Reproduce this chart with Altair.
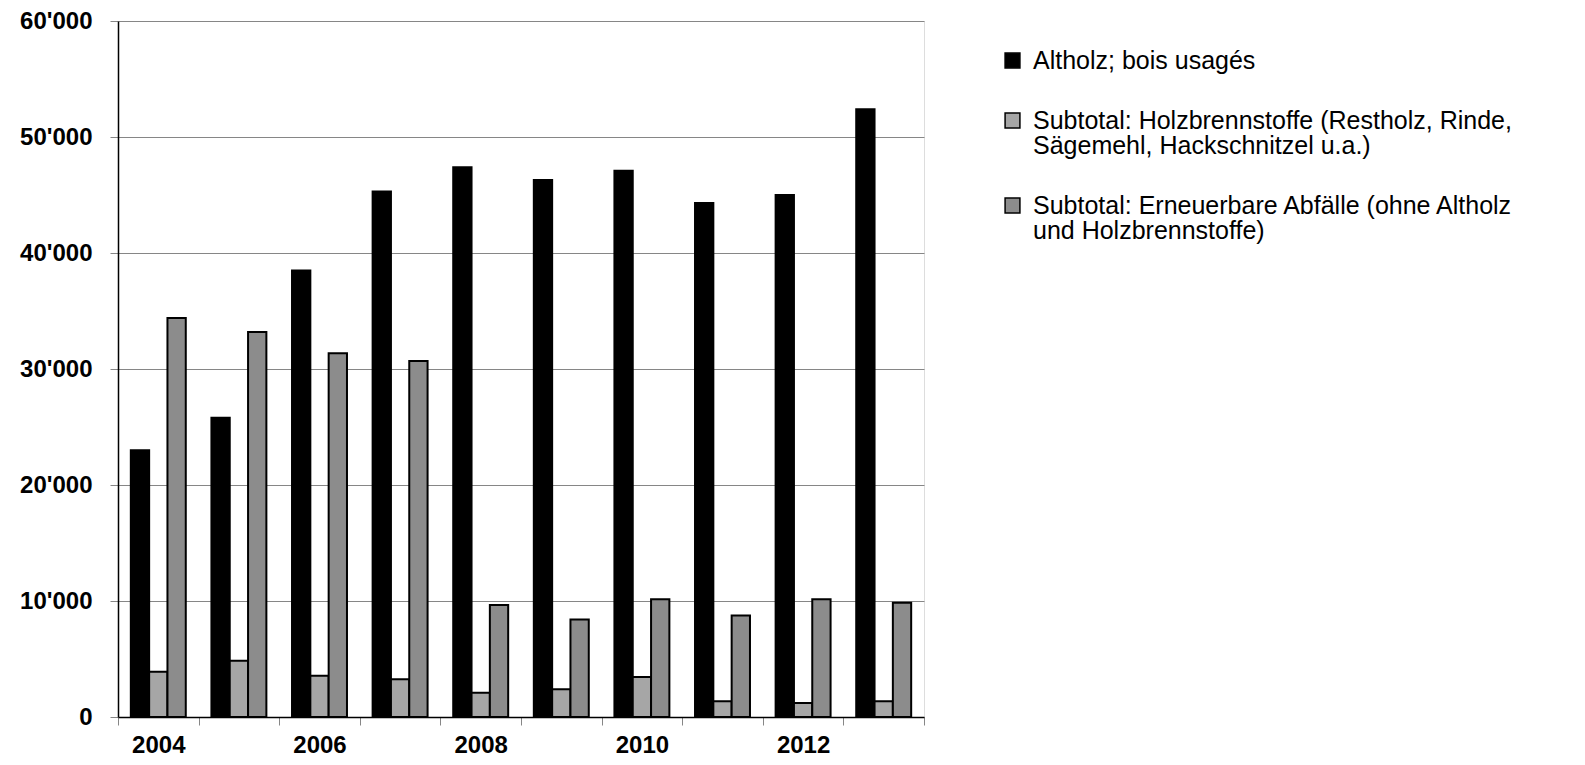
import altair as alt
import pandas as pd

years = [2004, 2005, 2006, 2007, 2008, 2009, 2010, 2011, 2012, 2013]
series = [
    "Altholz; bois usagés",
    "Subtotal: Holzbrennstoffe (Restholz, Rinde,\nSägemehl, Hackschnitzel u.a.)",
    "Subtotal: Erneuerbare Abfälle (ohne Altholz\nund Holzbrennstoffe)",
]
altholz = [23000, 25800, 38500, 45300, 47400, 46300, 47100, 44300, 45000, 52400]
holzbrennstoffe = [3900, 4850, 3550, 3250, 2100, 2400, 3450, 1350, 1200, 1350]
abfaelle = [34400, 33200, 31350, 30700, 9650, 8400, 10150, 8750, 10150, 9850]
y_ticks = [0, 10000, 20000, 30000, 40000, 50000, 60000]
fills = ["#000000", "#a6a6a6", "#8c8c8c"]

rows = []
for s, vals in zip(series, [altholz, holzbrennstoffe, abfaelle]):
    for yr, v in zip(years, vals):
        rows.append({"year": yr, "series": s, "value": v})
df = pd.DataFrame(rows)

FONT = "Liberation Sans"
GRID = "#868686"

chart = alt.Chart(df).mark_bar(stroke="black", strokeWidth=2).encode(
    x=alt.X(
        "year:O",
        scale=alt.Scale(paddingInner=0, paddingOuter=0),
        axis=alt.Axis(
            title=None,
            labelExpr="datum.value % 2 == 0 ? datum.label : ''",
            labelAngle=0,
            labelFont=FONT,
            labelFontSize=24,
            labelFontWeight="bold",
            labelColor="black",
            labelPadding=8,
            labelBaseline="top",
            tickBand="extent",
            tickSize=8,
            tickColor=GRID,
            domainColor="black",
            domainWidth=1.5,
            grid=False,
        ),
    ),
    xOffset=alt.XOffset(
        "series:N", sort=series, scale=alt.Scale(paddingInner=0, paddingOuter=0.7)
    ),
    y=alt.Y(
        "value:Q",
        scale=alt.Scale(domain=[0, 60000], nice=False),
        axis=alt.Axis(
            title=None,
            values=y_ticks,
            labelExpr="replace(format(datum.value, ','), ',', \"'\")",
            labelFont=FONT,
            labelFontSize=24,
            labelFontWeight="bold",
            labelColor="black",
            labelPadding=18,
            tickSize=8,
            tickColor=GRID,
            domainColor="black",
            domainWidth=1.5,
            grid=True,
            gridColor=GRID,
            gridWidth=1,
        ),
    ),
    color=alt.Color(
        "series:N",
        sort=series,
        scale=alt.Scale(domain=series, range=fills),
        legend=alt.Legend(
            title=None,
            orient="none",
            legendX=882,
            legendY=27,
            labelExpr="split(datum.label, '\\n')",
            labelFont=FONT,
            labelFontSize=25,
            labelColor="black",
            labelLimit=2000,
            labelOffset=8,
            labelBaseline="middle",
            symbolType="square",
            symbolSize=220,
            symbolStrokeColor="black",
            symbolStrokeWidth=1.5,
            symbolOffset=0,
            rowPadding=34,
            padding=0,
        ),
    ),
).properties(
    width=806,
    height=696,
    autosize=alt.AutoSizeParams(type="none"),
    padding={"left": 110, "top": 13, "right": 650, "bottom": 40},
).configure_view(
    stroke=GRID, strokeWidth=1
).configure(
    style={"guide-label": {"lineHeight": 25}}
)

chart.save("out.html", embed_options={"renderer": "svg", "actions": False})
